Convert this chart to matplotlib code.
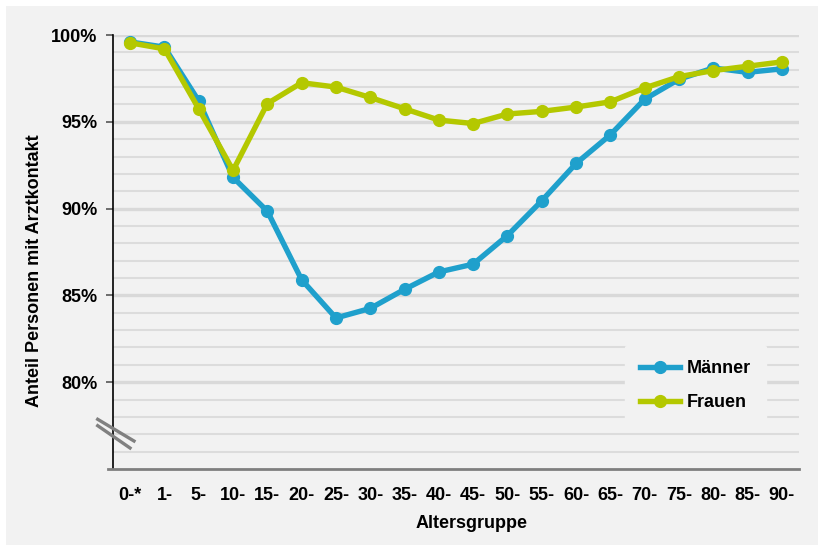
import matplotlib
matplotlib.use("Agg")
import matplotlib.pyplot as plt
from matplotlib.patches import Rectangle
from matplotlib.lines import Line2D

plt.rcParams['font.family'] = ['Liberation Sans', 'DejaVu Sans']
plt.rcParams['font.weight'] = 'bold'

age_groups = ["0-*", "1-", "5-", "10-", "15-", "20-", "25-", "30-", "35-", "40-",
              "45-", "50-", "55-", "60-", "65-", "70-", "75-", "80-", "85-", "90-"]
maenner = [99.6, 99.3, 96.2, 91.8, 89.85, 85.9, 83.7, 84.25, 85.35, 86.35,
           86.8, 88.45, 90.45, 92.6, 94.25, 96.3, 97.45, 98.1, 97.85, 98.05]
frauen = [99.55, 99.2, 95.75, 92.2, 96.05, 97.25, 97.0, 96.4, 95.75, 95.1,
          94.9, 95.45, 95.6, 95.85, 96.15, 96.95, 97.6, 97.95, 98.2, 98.45]
y_ticks = [80, 85, 90, 95, 100]
y_tick_labels = ["80%", "85%", "90%", "95%", "100%"]

blue = "#1fa0cc"
green = "#b4c800"
bg = "#f2f2f2"
fs = 13

fig = plt.figure(figsize=(8.18, 5.45), dpi=100)
fig.patch.set_facecolor("white")
fig.patches.append(Rectangle((6 / 818, 0), 1, 1 - 6 / 545, transform=fig.transFigure,
                             facecolor=bg, edgecolor="none", zorder=-10))

ax = fig.add_axes([113 / 818, 76 / 545, 686 / 818, 434 / 545])
ax.set_facecolor(bg)

x = list(range(len(age_groups)))

# grid lines: thin every 1 %, thick every 5 %
for v in range(76, 101):
    if v % 5 == 0:
        ax.axhline(v, color="#d9d9d9", lw=2.4, zorder=0)
    else:
        ax.axhline(v, color="#dcdcdc", lw=1.5, zorder=0)

ax.plot(x, maenner, color=blue, lw=3.9, marker="o", ms=8.5, label="Männer", zorder=3)
ax.plot(x, frauen, color=green, lw=3.9, marker="o", ms=8.5, label="Frauen", zorder=4)

ax.set_xlim(-0.5, len(age_groups) - 0.5)
ax.set_ylim(75, 100)
ax.set_yticks(y_ticks)
ax.set_yticklabels(y_tick_labels, fontsize=fs, fontweight="bold")
ax.set_xticks(x)
ax.set_xticklabels(age_groups, fontsize=fs, fontweight="bold")
ax.tick_params(axis="x", length=0, pad=13)
ax.tick_params(axis="y", length=5, width=1.2, color="#555555", pad=6)

for s in ["top", "right"]:
    ax.spines[s].set_visible(False)
ax.spines["left"].set_color("black")
ax.spines["left"].set_linewidth(1.2)
ax.spines["bottom"].set_color("#7f7f7f")
ax.spines["bottom"].set_linewidth(2)
ax.spines["bottom"].set_bounds(-0.65, len(age_groups) - 0.5)

# axis break marks
for (x0, y0, x1, y1) in [(-0.0223, 0.1145, 0.0306, 0.0645), (-0.0223, 0.0998, 0.0248, 0.0484)]:
    ax.add_line(Line2D([x0, x1], [y0, y1], transform=ax.transAxes, color="#808080",
                       lw=2.4, clip_on=False, zorder=5))

leg = ax.legend(loc="center", bbox_to_anchor=(0.849, 0.192), frameon=True,
                facecolor=bg, edgecolor=bg, framealpha=1, fontsize=fs,
                handlelength=2.2, handletextpad=0.4, labelspacing=0.95,
                borderpad=0.85, borderaxespad=0)
for t in leg.get_texts():
    t.set_fontweight("bold")

fig.text(35 / 818, 1 - 271 / 545, "Anteil Personen mit Arztkontakt", rotation=90,
         ha="center", va="center", fontsize=fs, fontweight="bold")
fig.text(472 / 818, 1 - 523 / 545, "Altersgruppe", ha="center", va="center",
         fontsize=fs, fontweight="bold")

fig.savefig("out.png", dpi=100, facecolor=fig.get_facecolor())
